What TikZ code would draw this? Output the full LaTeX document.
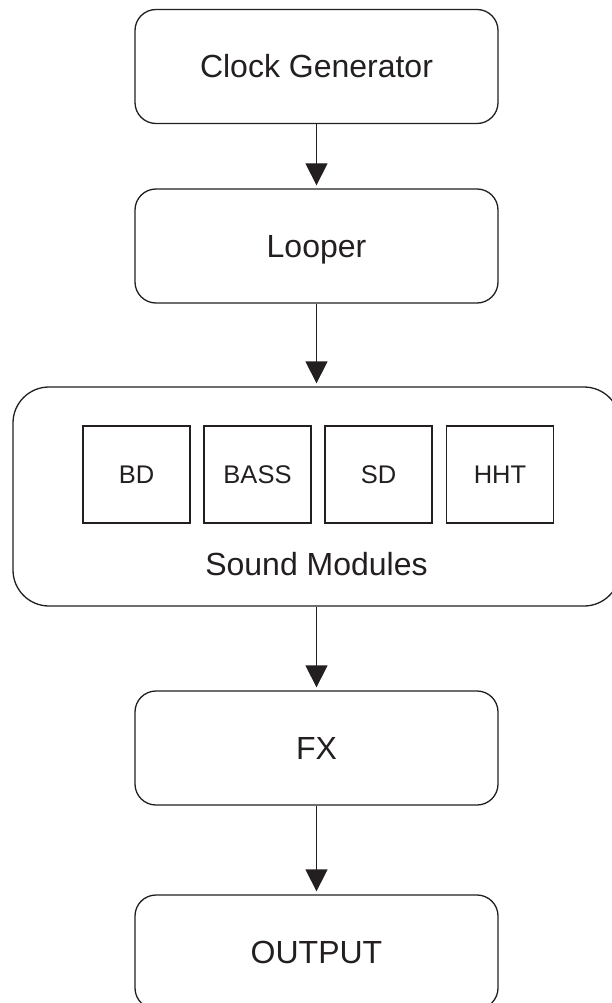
\documentclass[tikz,border=0pt]{standalone}
\usepackage{fontspec}
\setmainfont{Liberation Sans}
\usetikzlibrary{arrows.meta}
\definecolor{ink}{HTML}{231F20}
\begin{document}
\begin{tikzpicture}[x=1pt,y=-1pt,
 box/.style={draw=ink,line width=1.3pt,rounded corners=21pt,minimum width=363pt,minimum height=114pt,inner sep=0pt,text=ink,font=\fontsize{32}{38}\selectfont,text height=23pt,text depth=0pt},
 mod/.style={draw=ink,line width=1.2pt,minimum width=107pt,minimum height=97pt,inner sep=0pt,text=ink,font=\fontsize{25.5}{30}\selectfont,text height=18.3pt,text depth=0pt},
 group/.style={draw=ink,line width=1.3pt,rounded corners=36pt,minimum width=607pt,minimum height=219pt,inner sep=0pt},
 lbl/.style={text=ink,inner sep=0pt,font=\fontsize{32}{38}\selectfont,text height=23pt,text depth=0pt},
 arr/.style={draw=ink,line width=1.3pt,-{Triangle[length=22pt,width=22pt]},shorten >=3pt}]
\useasboundingbox (0,0) rectangle (612,1003);
\clip (0,0) rectangle (612,1003);
\node[box] (clock) at (316.5,66.5) {Clock Generator};
\node[box] (looper) at (316.5,246) {Looper};
\node[group] (sm) at (316.5,496.5) {};
\node[mod] (bd) at (136.5,474.5) {BD};
\node[mod] (bass) at (257.5,474.5) {BASS};
\node[mod] (sd) at (378.5,474.5) {SD};
\node[mod] (hht) at (500,474.5) {HHT};
\node[lbl] (smlabel) at (316.5,564) {Sound Modules};
\node[box] (fx) at (316.5,748) {FX};
\node[box] (out) at (316.5,952) {OUTPUT};
\draw[arr] (clock) -- (looper);
\draw[arr] (looper) -- (sm);
\draw[arr] (sm) -- (fx);
\draw[arr] (fx) -- (out);
\end{tikzpicture}
\end{document}
